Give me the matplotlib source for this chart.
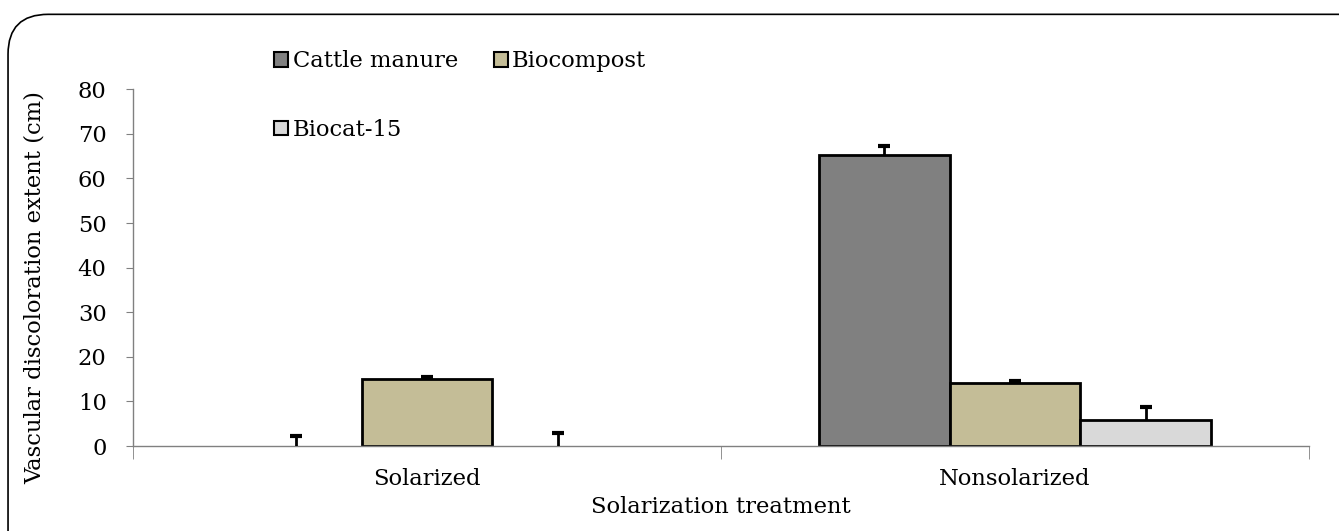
import matplotlib
matplotlib.use("Agg")
import matplotlib.pyplot as plt
import numpy as np
from matplotlib.patches import FancyBboxPatch, Patch

plt.rcParams['font.family'] = ['DejaVu Serif']
FS = 16.3

# data
groups = ['Solarized', 'Nonsolarized']
series = ['Cattle manure', 'Biocompost', 'Biocat-15']
values = {
    'Cattle manure': [0.0, 65.2],
    'Biocompost': [15.1, 14.2],
    'Biocat-15': [0.0, 5.8],
}
errors = {
    'Cattle manure': [2.2, 2.0],
    'Biocompost': [0.4, 0.4],
    'Biocat-15': [3.0, 3.0],
}
colors = {'Cattle manure': '#808080', 'Biocompost': '#c4bd97', 'Biocat-15': '#d9d9d9'}

fig = plt.figure(figsize=(13.39, 5.31), dpi=100)
ax = fig.add_axes([0.0993, 0.160, 0.8783, 0.672])

x = np.arange(len(groups))
w = 0.222
for i, s in enumerate(series):
    pos = x + (i - 1) * w
    vals = np.array(values[s])
    edges = ['black' if v > 0 else 'none' for v in vals]
    ax.bar(pos, vals, width=w, color=colors[s], edgecolor=edges, linewidth=2, zorder=2)
    eb = ax.errorbar(pos, vals, yerr=[np.zeros(len(groups)), errors[s]], fmt='none',
                     ecolor='black', elinewidth=2, capsize=4.5, capthick=3, zorder=3)
    # only the upper cap is shown
    eb[1][0].set_visible(False)

ax.set_xlim(-0.5, 1.5)
ax.set_ylim(0, 80)
ax.set_yticks(np.arange(0, 81, 10))
ax.set_xticks(x)
ax.set_xticklabels(groups)
ax.set_xticks([-0.5, 0.5, 1.5], minor=True)
ax.tick_params(axis='x', which='major', length=0, pad=16, labelsize=FS)
ax.tick_params(axis='x', which='minor', length=9, color='#808080')
ax.tick_params(axis='y', length=5, color='#808080', labelsize=FS, pad=14)
for side in ['top', 'right']:
    ax.spines[side].set_visible(False)
for side in ['left', 'bottom']:
    ax.spines[side].set_color('#808080')
    ax.spines[side].set_linewidth(1)

ax.set_xlabel('Solarization treatment', fontsize=FS, labelpad=4)
ax.set_ylabel('Vascular discoloration extent (cm)', fontsize=FS)
ax.yaxis.set_label_coords(-0.074, 0.443)

order = ['Cattle manure', 'Biocat-15', 'Biocompost']
handles = [Patch(facecolor=colors[s], edgecolor='black', linewidth=1.5) for s in order]
fig.legend(handles, order, ncol=2,
           loc='upper left', bbox_to_anchor=(0.205, 0.905), frameon=False, fontsize=FS,
           handlelength=0.6, handleheight=0.6, handletextpad=0.2, columnspacing=1.6,
           labelspacing=2.05, borderaxespad=0, borderpad=0)

box = FancyBboxPatch((0.006, -0.2), 1.2, 1.173, boxstyle='round,pad=0,rounding_size=0.03',
                     transform=fig.transFigure, fill=False, edgecolor='black', linewidth=1.2,
                     mutation_aspect=2.5, clip_on=False)
fig.patches.append(box)

fig.savefig('out.png', dpi=100)
